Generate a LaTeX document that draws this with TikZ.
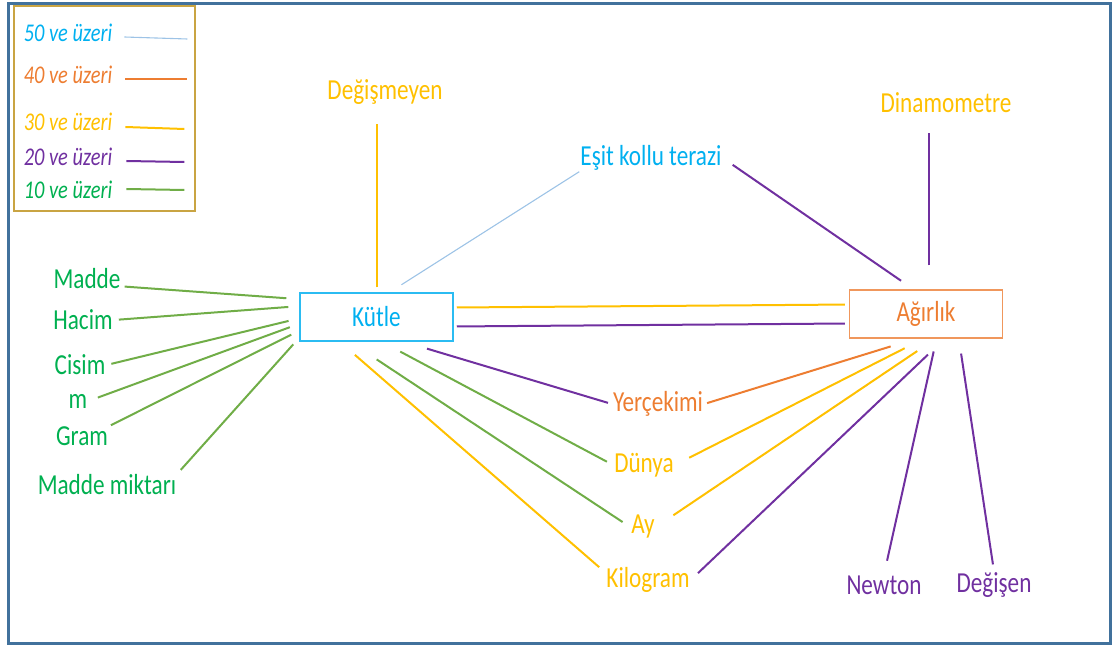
\documentclass[tikz,border=0pt]{standalone}
\usepackage{fontspec}
\usepackage{xcolor}
\usepackage{tikz}
\newfontfamily\diagfont[FakeStretch=0.8]{Carlito}
\definecolor{skytext}{HTML}{00B0F0}
\definecolor{skyline}{HTML}{9DC3E6}
\definecolor{kutleedge}{HTML}{2BBCF2}
\definecolor{orangetext}{HTML}{ED7D31}
\definecolor{agirlikedge}{HTML}{F0975C}
\definecolor{yellowtext}{HTML}{FFC000}
\definecolor{purpletext}{HTML}{7030A0}
\definecolor{greentext}{HTML}{00B050}
\definecolor{greenline}{HTML}{70AD47}
\definecolor{legendedge}{HTML}{C9A443}
\definecolor{frameblue}{HTML}{41719C}

\begin{document}
\begin{tikzpicture}[x=1pt, y=-1pt]
        \tikzstyle{concept} = [rectangle, draw, line width=1.5pt, minimum width=153pt, minimum height=48pt, inner sep=0pt, font=\diagfont\fontsize{29}{32}\selectfont]
        \tikzstyle{word} = [inner sep=1pt, font=\diagfont\fontsize{29}{32}\selectfont]
        \tikzstyle{legword} = [inner sep=1pt, font=\diagfont\itshape\fontsize{25.5}{28}\selectfont]
        \tikzstyle{fifty} = [draw, skyline, line width=1.1pt]
        \tikzstyle{forty} = [draw, orangetext, line width=2pt]
        \tikzstyle{thirty} = [draw, yellowtext, line width=2pt]
        \tikzstyle{twenty} = [draw, purpletext, line width=2pt]
        \tikzstyle{ten} = [draw, greenline, line width=2pt]

        \useasboundingbox (0,0) rectangle (1116,647);
        \draw [frameblue, line width=3.5pt] (8.5,3.5) rectangle (1110.5,643.5);

        % legend
        \draw [legendedge, line width=1.5pt] (14,6) rectangle (195,211);
        \node [legword, text=skytext] (leg50) at (68,33) {50 ve üzeri};
        \node [legword, text=orangetext] (leg40) at (68,75) {40 ve üzeri};
        \node [legword, text=yellowtext] (leg30) at (68,122) {30 ve üzeri};
        \node [legword, text=purpletext] (leg20) at (68,157) {20 ve üzeri};
        \node [legword, text=greentext] (leg10) at (68,190) {10 ve üzeri};
        \draw [fifty] (leg50.east) ++(11,4) -- ++(63,2);
        \draw [forty] (leg40.east) ++(12,4) -- ++(62,0);
        \draw [thirty] (leg30.east) ++(12,5) -- ++(59,2);
        \draw [twenty] (leg20.east) ++(13,4) -- ++(58,1);
        \draw [ten] (leg10.east) ++(13,-1) -- ++(58,1);

        % concepts
        \node [concept, draw=kutleedge, text=skytext] (kutle) at (376.5,317) {Kütle};
        \node [concept, draw=agirlikedge, text=orangetext] (agirlik) at (926,314) {Ağırlık};

        \node [word, text=yellowtext] (degismeyen) at (385,92) {Değişmeyen};
        \node [word, text=skytext] (terazi) at (651,158) {Eşit kollu terazi};
        \node [word, text=yellowtext] (dinamometre) at (946,103) {Dinamometre};

        \node [word, text=greentext] (madde) at (87,279) {Madde};
        \node [word, text=greentext] (hacim) at (83,320) {Hacim};
        \node [word, text=greentext] (cisim) at (80,365) {Cisim};
        \node [word, text=greentext] (mnode) at (78,401) {m};
        \node [word, text=greentext] (gram) at (82,436) {Gram};
        \node [word, text=greentext] (miktar) at (107,485) {Madde miktarı};

        \node [word, text=orangetext] (yercekimi) at (658,404) {Yerçekimi};
        \node [word, text=yellowtext] (dunya) at (644,465) {Dünya};
        \node [word, text=yellowtext] (ay) at (643,527) {Ay};
        \node [word, text=yellowtext] (kilogram) at (648,580) {Kilogram};
        \node [word, text=purpletext] (newton) at (884,585) {Newton};
        \node [word, text=purpletext] (degisen) at (994,585) {Değişen};

        % links above
        \draw [thirty, shorten <=5pt, shorten >=18pt] (kutle.north) -- (kutle.north |- degismeyen.south);
        \draw [fifty, shorten >=14pt] (terazi.south west) -- (kutle.62);
        \draw [twenty, shorten <=12pt, shorten >=15pt] (terazi.east) -- (agirlik.117);
        \draw [twenty, shorten <=24pt, shorten >=19pt] ([xshift=3pt]agirlik.north) -- ([xshift=3pt]agirlik.north |- dinamometre.south);

        % between the two boxes
        \draw [thirty, shorten <=3pt, shorten >=4pt] (kutle.7) -- (agirlik.173);
        \draw [twenty, shorten <=3pt, shorten >=4pt] (kutle.-7) -- (agirlik.187);

        % left of Kütle
        \draw [ten, shorten <=3pt, shorten >=13pt] (madde.-12) -- (kutle.167);
        \draw [ten, shorten <=5pt, shorten >=11pt] (hacim.east) -- (kutle.172);
        \draw [ten, shorten <=5pt, shorten >=11pt] (cisim.east) -- (kutle.181);
        \draw [ten, shorten <=10pt, shorten >=10pt] (mnode.east) -- (kutle.185);
        \draw [ten, shorten <=2pt, shorten >=9pt] (gram.20) -- (kutle.190);
        \draw [ten, shorten <=5pt, shorten >=9pt] (miktar.north east) -- (kutle.195);

        % below Kütle
        \draw [twenty, shorten <=24pt, shorten >=4pt] (kutle.-42) -- (yercekimi.west);
        \draw [ten, shorten <=21pt, shorten >=7pt] (kutle.-78) -- (dunya.west);
        \draw [ten, shorten <=32pt, shorten >=9pt] (kutle.223) -- (ay.west);
        \draw [thirty, shorten <=20pt, shorten >=8pt] (kutle.214) -- (kilogram.170);

        % below Ağırlık
        \draw [forty, shorten <=26pt, shorten >=3pt] (agirlik.247) -- (yercekimi.east);
        \draw [thirty, shorten <=21pt, shorten >=16pt] (agirlik.264) -- (dunya.east);
        \draw [thirty, shorten <=22pt, shorten >=21pt] (agirlik.291) -- (ay.east);
        \draw [twenty, shorten <=23pt, shorten >=10pt] (agirlik.307) -- (kilogram.east);
        \draw [twenty, shorten <=13pt, shorten >=14pt] (agirlik.293) -- (newton.north);
        \draw [twenty, shorten <=15pt, shorten >=7pt] (agirlik.323) -- (degisen.north);
    \end{tikzpicture}
\end{document}
